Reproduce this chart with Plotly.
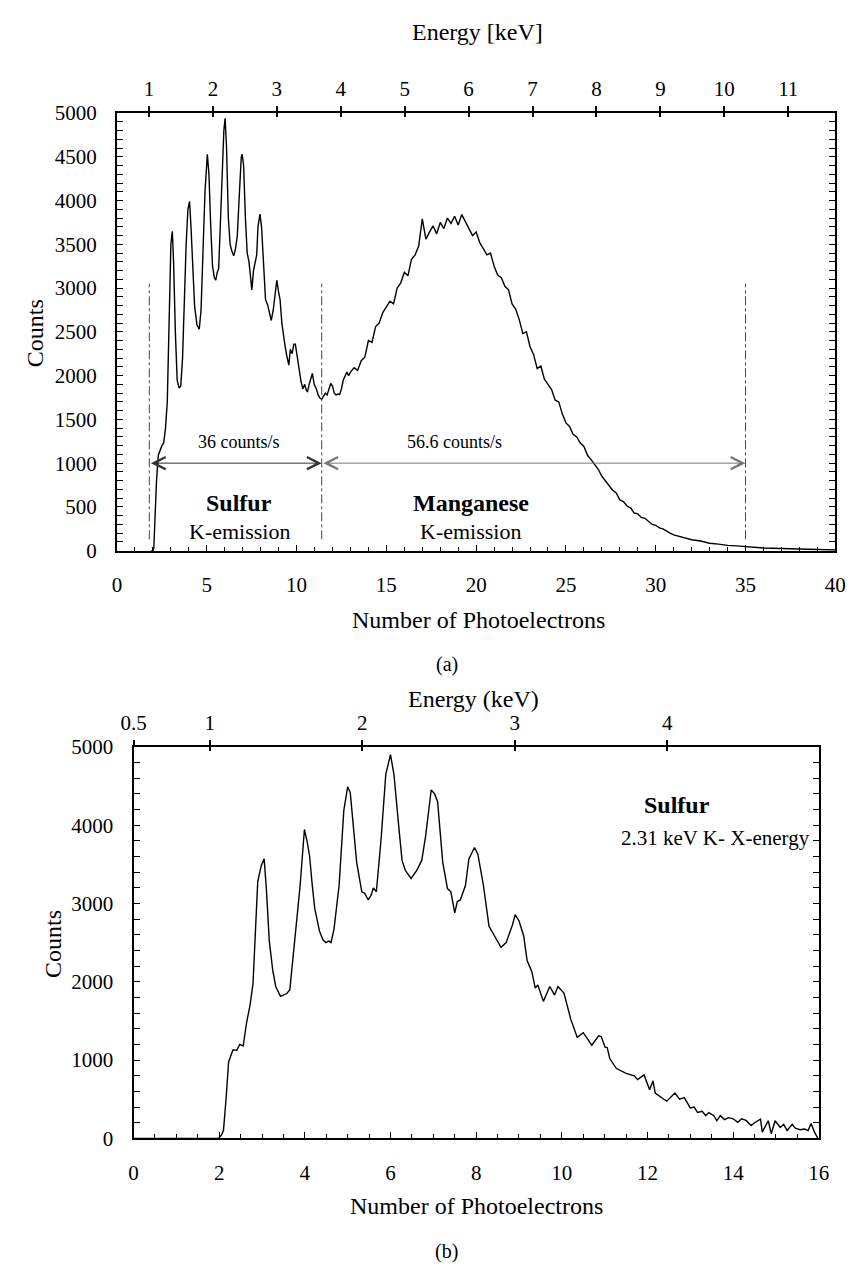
import plotly.graph_objects as go

W, H = 857, 1275
FONT = "'Liberation Serif', 'Times New Roman', Times, serif"

# Energy calibration of the top axes: photoelectrons = PE_PER_KEV * (keV - KEV_AT_ZERO)
PE_PER_KEV = 3.56
KEV_AT_ZERO = 0.5

# ---------------- panel (a) data ----------------
a_pe = [1.9, 2.0, 2.05, 2.1, 2.2, 2.3, 2.4, 2.5, 2.6, 2.7, 2.8, 2.9, 3.0, 3.08, 3.15, 3.25, 3.35, 3.45,
        3.55, 3.65, 3.75, 3.85, 3.95, 4.04, 4.12, 4.22, 4.32, 4.45, 4.58, 4.68, 4.78, 4.9, 5.03, 5.12,
        5.22, 5.32, 5.42, 5.5, 5.58, 5.66, 5.75, 5.85, 5.95, 6.02, 6.1, 6.2, 6.3, 6.4, 6.5, 6.6, 6.7,
        6.82, 6.92, 6.97, 7.05, 7.15, 7.25, 7.35, 7.45, 7.51, 7.6, 7.7, 7.78, 7.85, 7.96, 8.05, 8.15,
        8.27, 8.4, 8.5, 8.59, 8.7, 8.8, 8.9, 9.0, 9.08, 9.18, 9.26, 9.35, 9.45, 9.57, 9.65, 9.75, 9.85,
        9.93, 10.05, 10.15, 10.25, 10.35, 10.45, 10.55, 10.61, 10.7, 10.8, 10.88, 10.98, 11.1, 11.2,
        11.3, 11.4, 11.5, 11.6, 11.7, 11.8, 11.9, 12.0, 12.1, 12.2, 12.3, 12.4, 12.5, 12.6, 12.7, 12.8,
        12.9,
        13.0, 13.2, 13.4, 13.6, 13.8, 14.0, 14.2, 14.4, 14.6, 14.8, 15.0, 15.2, 15.4, 15.6, 15.8, 16.0,
        16.2, 16.4, 16.6, 16.8, 17.0, 17.2, 17.4, 17.6, 17.8, 18.0, 18.2, 18.4, 18.6, 18.8, 19.0, 19.2,
        19.4, 19.6, 19.8, 20.0, 20.2, 20.4, 20.6, 20.8, 21.0, 21.2, 21.4, 21.6, 21.8, 22.0, 22.2, 22.4,
        22.6, 22.8, 23.0, 23.2, 23.4, 23.6, 23.8, 24.0, 24.2, 24.4, 24.6, 24.8, 25.0, 25.2, 25.4, 25.6,
        25.8, 26.0, 26.2, 26.4, 26.6, 26.8, 27.0, 27.2, 27.4, 27.6, 27.8, 28.0, 28.2, 28.4, 28.6, 28.8,
        29.0, 29.2, 29.4, 29.6, 29.8, 30.0, 30.2, 30.4, 30.6, 30.8, 31.0,
        31.5, 32.0, 32.5, 33.0, 33.5, 34.0, 34.5, 35.0, 35.5, 36.0, 36.5, 37.0, 37.5, 38.0, 38.5, 39.0,
        39.5, 40.0]
a_counts = [0, 0, 30, 300, 800, 1090, 1150, 1200, 1230, 1400, 1700, 2600, 3500, 3650, 3300, 2500, 1950, 1860,
            1880, 2200, 2900, 3500, 3900, 3990, 3700, 3200, 2800, 2580, 2530, 2750, 3300, 4100, 4530, 4300,
            3700, 3250, 3120, 3090, 3180, 3220, 3700, 4300, 4800, 4940, 4600, 3800, 3500, 3420, 3370, 3450, 3600,
            4100, 4500, 4530, 4400, 3800, 3400, 3300, 3050, 2980, 3200, 3300, 3380, 3700, 3845, 3700, 3300,
            2870, 2800, 2700, 2630, 2750, 2950, 3090, 2950, 2870, 2600, 2460, 2350, 2230, 2120, 2300, 2250, 2360,
            2360, 2200, 2050, 1930, 1850, 1900, 1830, 1820, 1900, 1980, 2025, 1900, 1850, 1780,
            1745, 1730, 1760, 1800, 1780, 1850, 1910, 1880, 1800, 1780, 1790, 1785, 1850, 1950, 1990, 2040,
            2000,
            2040, 2090, 2060, 2170, 2210, 2400, 2380, 2560, 2600, 2720, 2790, 2850, 2820, 3000, 3060, 3180,
            3140, 3330, 3380, 3480, 3790, 3560, 3640, 3710, 3620, 3750, 3680, 3800, 3740, 3820, 3720, 3840,
            3760, 3680, 3600, 3640, 3520, 3450, 3380, 3400, 3250, 3150, 3120, 3020, 2980, 2820, 2760, 2640,
            2480, 2500, 2330, 2240, 2080, 2110, 1960, 1900, 1840, 1720, 1700, 1560, 1460, 1420, 1330, 1300,
            1230, 1190, 1090, 1040, 980, 930, 850, 800, 750, 690, 660, 580, 560, 510, 490, 430,
            420, 380, 370, 330, 300, 290, 260, 250, 220, 200, 180,
            150, 125, 110, 85, 75, 60, 55, 45, 40, 30, 28, 25, 20, 22, 15, 14,
            10, 8]

a_window_edges = [1.8, 11.4, 35.0]      # dash-dot integration limits
a_window_span = [130, 3050]             # vertical extent of those limits (counts)
a_arrow_level = 1000
a_rate_labels = ["36 counts/s", "56.6 counts/s"]
a_rate_label_x = [6.8, 18.8]
a_rate_label_y = 1244
a_element_names = ["Sulfur", "Manganese"]
a_element_x = [6.8, 19.7]
a_element_y = 549
a_emission_y = 224
a_energy_ticks = [1, 2, 3, 4, 5, 6, 7, 8, 9, 10, 11]

# ---------------- panel (b) data ----------------
b_pe = [0, 1.98, 2.05, 2.1, 2.16, 2.22, 2.32, 2.41, 2.48, 2.56, 2.64, 2.72, 2.79, 2.85, 2.9, 2.98, 3.05,
        3.1, 3.17, 3.25, 3.32, 3.43, 3.5, 3.58, 3.65, 3.72, 3.77, 3.89, 3.99, 4.05, 4.11, 4.17, 4.23, 4.34,
        4.42, 4.49, 4.56, 4.61, 4.68, 4.74, 4.8, 4.91, 5.0, 5.06, 5.13, 5.21, 5.33, 5.4, 5.48, 5.55, 5.6,
        5.67, 5.78, 5.89, 6.0, 6.08, 6.2, 6.27, 6.35, 6.48, 6.61, 6.73, 6.82, 6.95, 7.03, 7.1, 7.22, 7.33,
        7.41, 7.5, 7.56, 7.63, 7.75, 7.83, 7.96, 8.04, 8.17, 8.3, 8.43, 8.58, 8.7, 8.85, 8.91, 9.0, 9.11,
        9.19, 9.3, 9.38, 9.44, 9.57, 9.72, 9.83, 9.91, 10.05, 10.21, 10.36, 10.5, 10.7, 10.86, 10.92,
        11.01, 11.06, 11.12, 11.27, 11.5, 11.69, 11.77, 11.92, 12.05, 12.13, 12.18, 12.45, 12.64, 12.75,
        12.86, 13.0, 13.09, 13.17, 13.28, 13.36, 13.43, 13.55, 13.62, 13.7, 13.8, 13.89, 14.0, 14.11,
        14.2, 14.3, 14.42, 14.5, 14.64, 14.68, 14.82, 14.89, 14.98, 15.1, 15.18, 15.26, 15.38, 15.45,
        15.56, 15.67, 15.75, 15.82, 15.9, 15.98]
b_counts = [0, 0, 40, 100, 500, 977, 1130, 1125, 1200, 1180, 1480, 1700, 1980, 2700, 3275, 3480, 3570,
            3200, 2520, 2150, 1940, 1815, 1830, 1850, 1900, 2250, 2565, 3230, 3945, 3800, 3610, 3250, 2940, 2650,
            2540, 2500, 2520, 2500, 2670, 2950, 3230, 4190, 4490, 4420, 4000, 3525, 3150, 3130, 3045, 3110, 3200,
            3150, 3820, 4650, 4900, 4650, 3940, 3550, 3420, 3320, 3420, 3550, 3860, 4450, 4400, 4300, 3525, 3190,
            3150, 2880, 3025, 3045, 3230, 3570, 3715, 3630, 3230, 2710, 2585, 2440, 2500, 2730, 2857, 2780, 2585,
            2270, 2130, 1920, 1960, 1750, 1940, 1830, 1940, 1855, 1520, 1290, 1350, 1190, 1310, 1300,
            1165, 1160, 1020, 895, 830, 800, 750, 810, 620, 735, 580, 475, 580, 500,
            520, 390, 400, 330, 345, 290, 330, 290, 225, 290, 240, 265, 250, 205,
            250, 230, 165, 200, 245, 80, 225, 60, 225, 140, 180, 100, 180, 130,
            110, 120, 100, 190, 80, 0]
b_label_title = "Sulfur"
b_label_sub = "2.31 keV K- X-energy"
b_label_x = 12.68
b_title_y = 4261
b_sub_x = 13.6
b_sub_y = 3835
b_energy_ticks = [0.5, 1, 2, 3, 4]


def fx(p):
    return p / W


def fy(p):
    return 1 - p / H


A_X = [fx(107), fx(846)]
A_Y = [fy(549), fy(103)]
B_X = [fx(124), fx(829)]
B_Y = [fy(1148), fy(749)]

fig = go.Figure()

line_style = dict(color="black", width=1.4)
fig.add_trace(go.Scatter(x=a_pe, y=a_counts, mode="lines", line=line_style,
                         xaxis="x", yaxis="y", showlegend=False, hoverinfo="skip"))
for xe in a_window_edges:
    fig.add_trace(go.Scatter(x=[xe, xe], y=a_window_span, mode="lines",
                             line=dict(color="#444", width=1, dash="dashdot"),
                             xaxis="x", yaxis="y", showlegend=False, hoverinfo="skip"))
fig.add_trace(go.Scatter(x=b_pe, y=b_counts, mode="lines", line=line_style,
                         xaxis="x3", yaxis="y2", showlegend=False, hoverinfo="skip"))

# energy-axis helpers (no visible marks): x2/x4 carry labels, x5/x6 add the inner half of the ticks
for ax_name, y_name, ticks in (("x2", "y", a_energy_ticks), ("x5", "y", a_energy_ticks),
                               ("x4", "y2", b_energy_ticks), ("x6", "y2", b_energy_ticks)):
    fig.add_trace(go.Scatter(x=ticks, y=[None] * len(ticks), mode="lines",
                             xaxis=ax_name, yaxis=y_name, showlegend=False, hoverinfo="skip"))

tick_font = dict(family=FONT, size=21, color="black")


def bottom_axis(domain, rng, dtick, minor, anchor):
    return dict(domain=domain, range=rng, anchor=anchor, dtick=dtick, tick0=0,
                showgrid=False, zeroline=False, showline=True, linecolor="black", linewidth=2,
                ticks="inside", ticklen=6, tickwidth=1, tickcolor="black",
                minor=dict(dtick=minor, tick0=0, ticks="inside", ticklen=4, tickwidth=1,
                           tickcolor="black", showgrid=False),
                tickfont=tick_font, ticklabelstandoff=14, mirror=False)


def left_axis(domain, dtick, minor, anchor):
    return dict(domain=domain, range=[0, 5000], anchor=anchor, dtick=dtick, tick0=0,
                showgrid=False, zeroline=False, showline=True, linecolor="black", linewidth=2,
                ticks="inside", ticklen=6, tickwidth=1, tickcolor="black",
                minor=dict(dtick=minor, tick0=0, ticks="inside", ticklen=4, tickwidth=1,
                           tickcolor="black", showgrid=False),
                tickfont=tick_font, ticklabelstandoff=14, mirror="allticks")


def energy_axis(over, anchor, ticks, top_pe, inner=False):
    d = dict(overlaying=over, anchor=anchor, side="top",
             range=[KEV_AT_ZERO, KEV_AT_ZERO + top_pe / PE_PER_KEV],
             tickvals=ticks, showgrid=False, zeroline=False,
             tickwidth=1.5, tickcolor="black")
    if inner:
        d.update(showline=False, ticks="inside", ticklen=4, showticklabels=False)
    else:
        d.update(ticktext=[("%g" % t) for t in ticks], showline=True, linecolor="black",
                 linewidth=2, ticks="outside", ticklen=5, tickfont=tick_font,
                 ticklabelstandoff=2)
    return d


fig.update_layout(
    width=W, height=H, margin=dict(l=0, r=0, t=0, b=0),
    paper_bgcolor="white", plot_bgcolor="white",
    font=dict(family=FONT, color="black"),
    showlegend=False,
    xaxis=bottom_axis(A_X, [0, 40], 5, 1, "y"),
    yaxis=left_axis(A_Y, 500, 100, "x"),
    xaxis2=energy_axis("x", "y", a_energy_ticks, 40),
    xaxis5=energy_axis("x", "y", a_energy_ticks, 40, inner=True),
    xaxis3=bottom_axis(B_X, [0, 16], 2, 0.5, "y2"),
    yaxis2=left_axis(B_Y, 1000, 200, "x3"),
    xaxis4=energy_axis("x3", "y2", b_energy_ticks, 16),
    xaxis6=energy_axis("x3", "y2", b_energy_ticks, 16, inner=True),
)

ann = []


def paper_text(txt, x, y, size, angle=0):
    ann.append(dict(text=txt, x=fx(x), y=fy(y),
                    xref="paper", yref="paper", showarrow=False, textangle=angle,
                    xanchor="center", yanchor="middle",
                    font=dict(family=FONT, size=size, color="black")))


paper_text("Energy [keV]", 478, 20, 24)
paper_text("Counts", 22, 327, 24, angle=-90)
paper_text("Number of Photoelectrons", 479, 620, 24)
paper_text("(a)", 446, 665, 20)
paper_text("Energy (keV)", 474, 700, 24)
paper_text("Counts", 41, 950, 24, angle=-90)
paper_text("Number of Photoelectrons", 477, 1217, 24)
paper_text("(b)", 446, 1263, 20)

# arrows in panel (a)
arrow_colors = ["#333333", "#777777"]
for i in range(2):
    ann.append(dict(x=a_window_edges[i + 1], y=a_arrow_level, ax=a_window_edges[i], ay=a_arrow_level,
                    xref="x", yref="y", axref="x", ayref="y", text="", showarrow=True,
                    arrowhead=5, startarrowhead=5, arrowside="end+start",
                    arrowsize=2.4, startarrowsize=2.4, arrowwidth=1, arrowcolor=arrow_colors[i]))
    ann.append(dict(text=a_rate_labels[i], x=a_rate_label_x[i], y=a_rate_label_y, xref="x", yref="y",
                    showarrow=False, xanchor="center", yanchor="middle",
                    font=dict(family=FONT, size=18, color="black")))
    ann.append(dict(text="<b>%s</b>" % a_element_names[i], x=a_element_x[i], y=a_element_y,
                    xref="x", yref="y", showarrow=False, xanchor="center", yanchor="middle",
                    font=dict(family=FONT, size=24, color="black")))
    ann.append(dict(text="K-emission", x=a_element_x[i], y=a_emission_y,
                    xref="x", yref="y", showarrow=False, xanchor="center", yanchor="middle",
                    font=dict(family=FONT, size=22, color="black")))

ann.append(dict(text="<b>%s</b>" % b_label_title, x=b_label_x, y=b_title_y, xref="x3", yref="y2",
                showarrow=False, xanchor="center", yanchor="middle",
                font=dict(family=FONT, size=24, color="black")))
ann.append(dict(text=b_label_sub, x=b_sub_x, y=b_sub_y, xref="x3", yref="y2",
                showarrow=False, xanchor="center", yanchor="middle",
                font=dict(family=FONT, size=21, color="black")))

fig.update_layout(annotations=ann)
fig.write_html("out.html")
